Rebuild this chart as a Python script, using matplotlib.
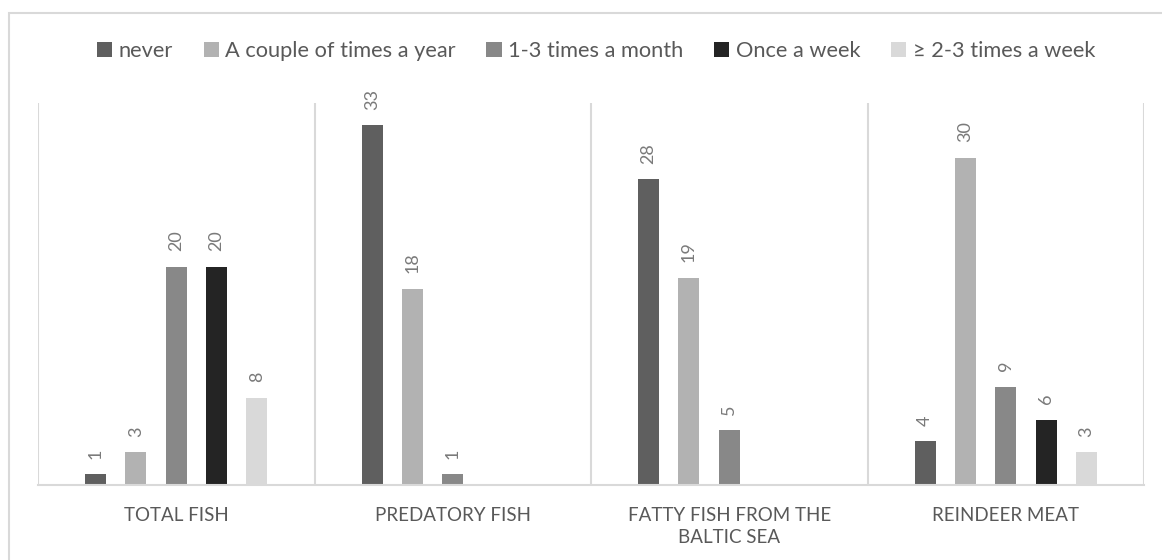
import numpy as np
import matplotlib.pyplot as plt
from matplotlib.patches import Rectangle

plt.rcParams['font.family'] = ['Lato', 'DejaVu Sans']

categories = ['TOTAL FISH', 'PREDATORY FISH', 'FATTY FISH FROM THE\nBALTIC SEA', 'REINDEER MEAT']
series = ['never', 'A couple of times a year', '1-3 times a month', 'Once a week', '\u2265 2-3 times a week']
never = [1, 33, 28, 4]
couple_year = [3, 18, 19, 30]
month_1_3 = [20, 1, 5, 9]
once_week = [20, None, None, 6]
week_2_3 = [8, None, None, 3]
values = [never, couple_year, month_1_3, once_week, week_2_3]
colors = ['#5f5f5f', '#b2b2b2', '#888888', '#242424', '#d9d9d9']

fig = plt.figure(figsize=(11.62, 5.6), dpi=100)
ax = fig.add_axes([38/1162, 1 - 485/560, (1144 - 38)/1162, (485 - 103)/560])

x = np.arange(len(categories)) + 0.5
step = 0.1458
width = 0.076
handles = []
for k, (name, vals, c) in enumerate(zip(series, values, colors)):
    v = np.array([np.nan if a is None else a for a in vals], dtype=float)
    bars = ax.bar(x + (k - 2) * step, np.nan_to_num(v), width, color=c, label=name)
    handles.append(bars)
    for b, val in zip(bars, v):
        if np.isnan(val):
            b.set_visible(False)
            continue
        ax.annotate(f'{int(val)}', (b.get_x() + b.get_width() / 2, b.get_height()),
                    xytext=(0, 11), textcoords='offset points', rotation=90,
                    ha='center', va='bottom', fontsize=13, color='#7a7a7a')

ax.set_xlim(0, len(categories))
ax.set_ylim(0, 35)
ax.set_yticks([])
ax.set_xticks(x)
ax.set_xticklabels(categories, fontsize=13.5, color='#595959', linespacing=1.35)
ax.tick_params(axis='x', length=0, pad=16)
ax.set_xticks(np.arange(len(categories) + 1), minor=True)
ax.tick_params(axis='x', which='minor', length=0)
ax.grid(which='minor', axis='x', color='#d9d9d9', linewidth=1.5)
ax.set_axisbelow(True)
for s in ['top', 'right', 'left']:
    ax.spines[s].set_visible(False)
ax.spines['bottom'].set_color('#d9d9d9')
ax.spines['bottom'].set_linewidth(1.5)

fig.legend(handles=handles, loc='center', bbox_to_anchor=(596/1162, 1 - 51.5/560),
           ncol=5, frameon=False, fontsize=15.7, labelcolor='#595959',
           handlelength=0.7, handleheight=0.7, handletextpad=0.3, columnspacing=1.4)

fig.patches.append(Rectangle((9/1162, -0.1), 1.2, 1 - 13/560 + 0.1, transform=fig.transFigure,
                             fill=False, edgecolor='#d9d9d9', linewidth=1.5))

fig.savefig('out.png', dpi=100)
